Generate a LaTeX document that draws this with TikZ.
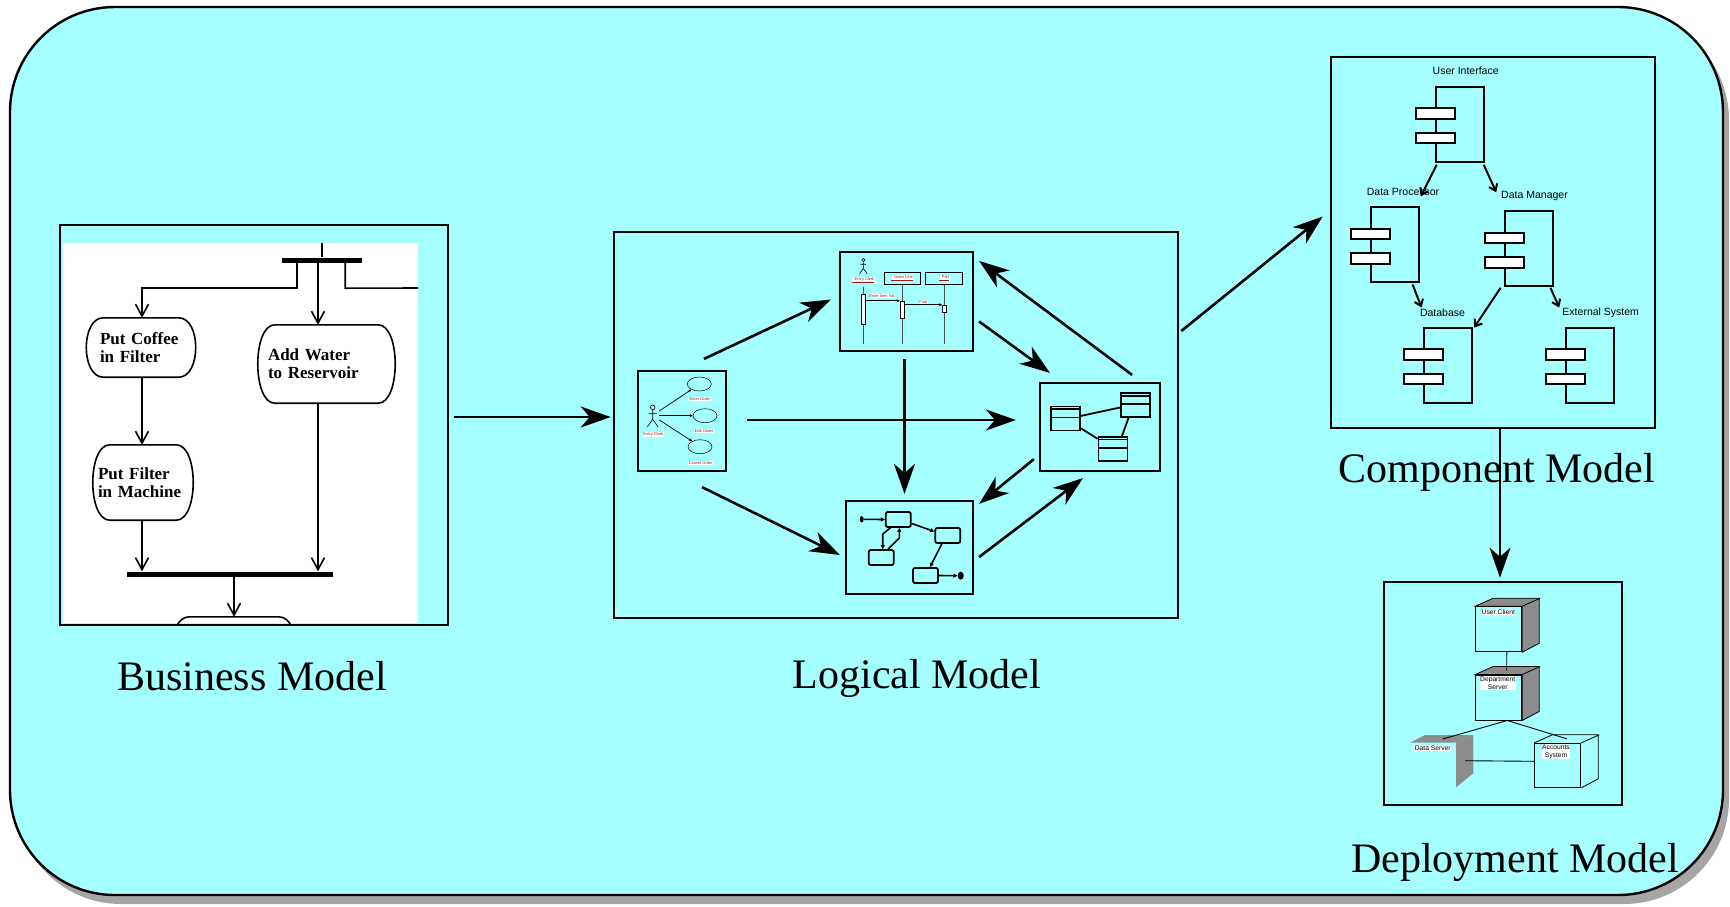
\documentclass[tikz,border=0pt]{standalone}
\usepackage{fontspec}
\setmainfont{Liberation Serif}
\setsansfont{Liberation Sans}
\usepackage{tikz}
\usetikzlibrary{calc,arrows.meta,shapes.geometric}

\definecolor{sheet}{RGB}{166,255,255}
\definecolor{shadowgray}{RGB}{165,165,165}
\definecolor{devgray}{RGB}{140,140,140}
\definecolor{minired}{RGB}{150,30,30}

\tikzset{
  modelframe/.style={draw,line width=2.6pt,inner sep=0pt},
  subframe/.style={draw,line width=2.2pt,inner sep=0pt},
  bigarrow/.style={line width=2.6pt,-{Stealth[length=30pt,width=21pt,inset=9pt]}},
  modeltitle/.style={anchor=base,inner sep=0pt,font=\fontsize{42}{50}\selectfont},
  % activity diagram
  activity/.style={inner sep=0pt,align=left,font=\bfseries\fontsize{17}{18}\selectfont},
  actline/.style={line width=1.6pt},
  actarrow/.style={line width=1.6pt,-{Straight Barb[length=12pt,width=13pt]}},
  syncbar/.style={fill,inner sep=0pt,minimum height=5pt},
  % small diagrams
  minilabel/.style={font=\sffamily\fontsize{4}{4.5}\selectfont,text=minired,fill=white,inner sep=0.4pt},
  usecase/.style={draw,ellipse,line width=0.5pt,inner sep=0pt,minimum width=24pt,minimum height=14pt},
  thinarrow/.style={line width=0.7pt,-{Stealth[length=3pt,width=3pt]}},
  seqobj/.style={draw,line width=0.8pt,inner sep=0pt,minimum height=12pt},
  lifeline/.style={line width=0.6pt,black!70},
  activation/.style={draw,fill=white,line width=0.5pt,inner sep=0pt,minimum width=4pt},
  classbox/.style={draw,line width=1.8pt,inner sep=0pt,minimum width=29pt,minimum height=24pt},
  assoc/.style={line width=1.8pt},
  stbox/.style={draw,line width=1.8pt,rounded corners=2pt,inner sep=0pt,minimum width=25pt,minimum height=15pt},
  stdot/.style={fill,ellipse,inner sep=0pt},
  starrow/.style={line width=1.6pt,-{Triangle[length=4pt,width=4pt]}},
  % component and deployment diagrams
  compbody/.style={draw,line width=2pt,inner sep=0pt,minimum width=48pt,minimum height=75pt},
  compport/.style={draw,fill=white,line width=2pt,inner sep=0pt,minimum width=39pt,minimum height=10.5pt},
  complabel/.style={font=\sffamily\fontsize{10.5}{12}\selectfont,inner sep=0pt},
  comparrow/.style={line width=2pt,-{Straight Barb[length=6pt,width=9pt]}},
  device/.style={draw,line width=1pt,inner sep=0pt,minimum width=46pt,minimum height=45pt},
  devlabel/.style={font=\sffamily\fontsize{6.7}{8}\selectfont,fill=white,inner sep=0.5pt,align=center},
  devline/.style={line width=0.9pt},
  component/.pic={
    \node[compbody] (-box) at (0,0) {};
    \foreach \dy in {-10.6,13.8}
      \node[compport] at (-24.5,\dy) {};
  },
  actor/.pic={
    \draw[line width=0.6pt] (0,0) circle[radius=2.3pt]
      (0,2.3) -- (0,12) (-4.2,6) -- (4.2,6)
      (-5.3,19.4) -- (0,12) -- (5.3,19.4);
  }
}

\begin{document}
\begin{tikzpicture}[x=1pt,y=-1pt]
  \useasboundingbox (0,0) rectangle (1730,906);

  % Sheet
  \fill[shadowgray,rounded corners=105pt] (16,15) rectangle (1729,904);
  \draw[line width=2.4pt,fill=sheet,rounded corners=105pt] (10,7) rectangle (1723,895);

  % Business model
  \node[modelframe,minimum width=388pt,minimum height=400pt] (bus) at (254,425) {};
  \fill[white] (63,243) rectangle (418,623);
  \begin{scope}
    \clip (63,243) rectangle (418,623);
    \coordinate (inflow) at (322,243);
    \coordinate (outflow) at (418,288);
    \node[syncbar,minimum width=80pt] (fork) at (322,260) {};
    \node[syncbar,minimum width=206pt] (join) at (230,574) {};
    \node[activity,minimum width=109pt,minimum height=59pt,text width=82pt] (coffee) at (141,347.5) {Put Coffee\\in Filter};
    \node[activity,minimum width=100pt,minimum height=75pt,text width=90pt] (filter) at (143,482.5) {Put Filter\\in Machine};
    \node[activity,minimum width=137pt,minimum height=78pt,text width=117pt] (water) at (326.5,364) {Add Water\\to Reservoir};
    \node[activity,minimum width=123pt,minimum height=60pt] (brew) at (234,647) {};
    \foreach \a in {coffee,filter,water,brew}
      \draw[line width=1.6pt] ($(\a.north west)+(17,0)$) -- ($(\a.north east)+(-17,0)$)
        .. controls ($(\a.north east)+(5.7,0)$) and ($(\a.south east)+(5.7,0)$) .. ($(\a.south east)+(-17,0)$)
        -- ($(\a.south west)+(17,0)$)
        .. controls ($(\a.south west)+(-5.7,0)$) and ($(\a.north west)+(-5.7,0)$) .. cycle;
    \draw[actline] (inflow) -- (fork.north);
    \draw[actarrow] ($(fork.south west)+(15,0)$) -- ++(0,25.5) -| ($(coffee.north)+(1,0)$);
    \draw[actarrow] ($(fork.south)+(-4,0)$) -- ($(water.north)+(-8.5,0)$);
    \draw[actline] ($(fork.south east)+(-17,0)$) -- ++(0,25.5) -- (outflow);
    \draw[actarrow] ($(coffee.south)+(1,0)$) -- ($(coffee.south |- filter.north)+(1,0)$);
    \draw[actarrow] ($(coffee.south |- filter.south)+(1,0)$) -- ($(coffee.south |- join.north)+(1,0)$);
    \draw[actarrow] ($(water.south)+(-8.5,0)$) -- ($(water.south |- join.north)+(-8.5,0)$);
    \draw[actarrow] (join.south -| brew.north) -- (brew.north);
  \end{scope}
  \node[modeltitle] (busname) at (252,690) {Business Model};

  % Logical model
  \node[modelframe,minimum width=564pt,minimum height=386pt] (log) at (896,425) {};
  \node[subframe,minimum width=88pt,minimum height=100pt] (uc) at (682,421) {};
  \node[subframe,minimum width=133pt,minimum height=99pt] (seq) at (906.5,301.5) {};
  \node[subframe,minimum width=120pt,minimum height=88pt] (cls) at (1100,427) {};
  \node[subframe,minimum width=127pt,minimum height=93pt] (st) at (909.5,547.5) {};
  \node[modeltitle] (logname) at (917,688) {Logical Model};

  % use case diagram
  \pic at (652.7,407.3) {actor};
  \coordinate (clerk) at (659.3,415.7);
  \node[usecase] (enter) at (699.3,384) {};
  \node[usecase] (edit) at (705,415.7) {};
  \node[usecase] (cancel) at (700,446.7) {};
  \node[minilabel] (clerkname) at (653.3,434.3) {Entry Clerk};
  \node[minilabel] (entername) at (700,399) {Enter Order};
  \node[minilabel] (editname) at (704,431) {Edit Order};
  \node[minilabel] (cancelname) at (700.7,463.3) {Cancel Order};
  \draw[thinarrow] ($(clerk)+(0,-4.7)$) -- (enter.215);
  \draw[thinarrow] (clerk) -- (edit.west);
  \draw[thinarrow] ($(clerk)+(0,4.3)$) -- (cancel.145);

  % sequence diagram
  \pic[scale=0.7] at (863.3,260) {actor};
  \node[minilabel] (seqclerk) at (863.3,280) {\underline{: Entry Clerk}};
  \node[seqobj,minimum width=36pt] (ol) at (902.2,278.3) {};
  \node[seqobj,minimum width=37pt] (part) at (944.2,278.3) {};
  \node[minilabel] (olname) at (ol) {\underline{: Order Line}};
  \node[minilabel] (partname) at (part) {\underline{: Part}};
  \draw[lifeline] ($(seqclerk.south)+(0,4)$) -- ($(seqclerk.south |- seq.south)+(0,-8)$);
  \draw[lifeline] (ol.south) -- ($(ol.south |- seq.south)+(0,-8)$);
  \draw[lifeline] (part.south) -- ($(part.south |- seq.south)+(0,-8)$);
  \node[activation,minimum height=30pt] (act1) at (863.5,309.3) {};
  \node[activation,minimum height=16.7pt] (act2) at (902,309.4) {};
  \node[activation,minimum height=6.7pt] (act3) at (944.2,308.4) {};
  \draw[thinarrow] (act1.east |- act2.north) -- (act2.north west);
  \draw[thinarrow] (act2.east |- act3.north) -- (act3.north west);
  \node[minilabel] (msgenter) at (881.7,296) {Enter Item No};
  \node[minilabel] (msgfind) at (923.3,301.7) {Find};

  % class diagram
  \node[classbox] (ca) at (1065.5,418.4) {};
  \node[classbox] (cb) at (1135.5,405) {};
  \node[classbox] (cc) at (1113,448.7) {};
  \foreach \c in {ca,cb,cc}
    \draw[line width=1.8pt] ($(\c.north west)+(0,3.6)$) -- ($(\c.north east)+(0,3.6)$)
      ($(\c.north west)+(0,12)$) -- ($(\c.north east)+(0,12)$);
  \draw[assoc] ($(ca.east)+(0,-2.5)$) -- ($(cb.west)+(0,2.5)$);
  \draw[assoc] ($(ca.south east)+(0,-3)$) -- ($(cc.north west)+(0,3)$);
  \draw[assoc] ($(cb.south)+(-7,0)$) -- ($(cc.north)+(9,0)$);

  % state diagram
  \node[stdot,minimum width=4pt,minimum height=6.5pt] (init) at (861.7,519.3) {};
  \node[stbox] (s1) at (898.3,519.5) {};
  \node[stbox] (s2) at (881.2,557.5) {};
  \node[stbox] (s3) at (947.8,535.5) {};
  \node[stbox] (s4) at (925.5,575.5) {};
  \node[stdot,minimum width=6pt,minimum height=8pt] (fin) at (960.7,575.7) {};
  \draw[starrow] (init) -- (s1.west);
  \draw[starrow] ($(s1.south)+(-8,0)$) -- ($(s2.north)+(1.5,-15)$) -- ($(s2.north)+(1.5,0)$);
  \draw[starrow] ($(s2.north)+(7,0)$) -- ($(s1.south)+(1,10)$) -- ($(s1.south)+(1,0)$);
  \draw[starrow] ($(s1.east)+(0,4)$) -- ($(s3.west)+(0,-4)$);
  \draw[starrow] ($(s3.south)+(-6,0)$) -- ($(s4.north)+(4.5,0)$);
  \draw[starrow] (s4.east) -- (fin.west);

  % Logical arrows
  \draw[bigarrow] ($(bus.east)+(5,-8)$) -- ($(log.west)+(-2,-8)$);
  \draw[bigarrow] ($(uc.north)+(22,-11)$) -- ($(seq.west)+(-8,-2)$);
  \draw[bigarrow] ($(uc.east)+(20,-1)$) -- ($(uc.east -| cls.west)+(-23,-1)$);
  \draw[bigarrow] ($(uc.south)+(20,15)$) -- ($(st.west)+(-5,7.5)$);
  \draw[bigarrow] ($(seq.south)+(-2,7)$) -- ($(seq.south |- st.north)+(-2,-6)$);
  \draw[bigarrow] ($(seq.east)+(5,20)$) -- ($(cls.north west)+(11,-9)$);
  \draw[bigarrow] ($(cls.north east)+(-29,-7)$) -- ($(seq.north east)+(5,10)$);
  \draw[bigarrow] ($(cls.south west)+(-5,-13)$) -- ($(st.north east)+(5,4)$);
  \draw[bigarrow] ($(st.east)+(5,9.5)$) -- ($(cls.south)+(-17,6)$);

  % Component model
  \node[modelframe,minimum width=324pt,minimum height=371pt] (comp) at (1493,242.5) {};
  \pic (ui) at (1459.7,124.2) {component};
  \pic (dp) at (1394.9,244.7) {component};
  \pic (dm) at (1528.9,248.7) {component};
  \pic (db) at (1448.2,365) {component};
  \pic (es) at (1589.9,365) {component};
  \node[complabel] (uiname) at (1465.7,71) {User Interface};
  \node[complabel] (dpname) at (1403,192.3) {Data Processor};
  \node[complabel] (dmname) at (1534.5,196) {Data Manager};
  \node[complabel] (dbname) at (1442.5,312.3) {Database};
  \node[complabel] (esname) at (1600.7,312.3) {External System};
  \draw[comparrow] ($(ui-box.south west)+(2,2)$) -- ($(dp-box.north east)+(1,-10)$);
  \draw[comparrow] ($(ui-box.south east)+(-1,2)$) -- ($(dm-box.north west)+(-7.7,-18)$);
  \draw[comparrow] ($(dp-box.south east)+(-7.3,1.3)$) -- ($(db-box.north west)+(-1.7,-19)$);
  \draw[comparrow] ($(dm-box.south west)+(-3.3,0.6)$) -- ($(db-box.north east)+(1,1)$);
  \draw[comparrow] ($(dm-box.south east)+(-3.4,0.6)$) -- ($(es-box.north west)+(-5.7,-19)$);
  \node[modeltitle] (compname) at (1497,482) {Component Model};
  \draw[bigarrow] ($(log.east)+(2,-94)$) -- ($(comp.west)+(-7,-26)$);

  % Deployment model
  \node[modelframe,minimum width=238pt,minimum height=223pt] (depl) at (1503,693.5) {};
  \node[device] (client) at (1498.8,629.2) {};
  \node[device] (dept) at (1498.7,697.5) {};
  \node[device,minimum height=44pt] (acct) at (1557.8,765.3) {};
  \foreach \n in {client,dept} {
    \filldraw[fill=devgray,draw=black,line width=0.8pt] (\n.north west) -- ++(18,-8) -- ++(46,0)
      -- ++(0,45) -- (\n.south east) -- (\n.north east) -- cycle;
    \draw[line width=0.8pt] (\n.north east) -- ++(18,-8);
  }
  \draw[line width=0.8pt] (acct.north west) -- ++(18,-8) -- ++(46,0) -- ++(0,44) -- (acct.south east)
    (acct.north east) -- ++(18,-8);
  \coordinate (dsrv) at (1456,742.7);
  \fill[devgray] (dsrv) -- ++(-46,0) -- ++(15,-7.7) -- ++(48.3,0) -- cycle;
  \fill[devgray] (dsrv) -- ++(17.3,-7.7) -- ++(0,38.3) -- ++(-17.3,14) -- cycle;
  \draw[devline] ($(client.south)+(8,0)$) -- ($(dept.north)+(8,-4)$);
  \draw[devline] ($(dept.south)+(8.6,0)$) -- ($(dsrv)+(-13.3,-3.7)$);
  \draw[devline] ($(dept.south)+(8.6,0)$) -- ($(acct.north)+(9,-4)$);
  \draw[devline] ($(dsrv)+(9,18)$) -- ($(acct.west)+(0,-4)$);
  \node[devlabel] (clientname) at (1498.3,611.7) {User Client};
  \node[devlabel] (deptname) at (1497.7,683.3) {Department\\Server};
  \node[devlabel] (dsrvname) at (1432.7,747.7) {Data Server};
  \node[devlabel] (acctname) at (1556,751.7) {Accounts\\System};
  \draw[bigarrow] ($(comp.south)+(7,0)$) -- ($(depl.north -| comp.south)+(7,-3)$);
  \node[modeltitle] (deplname) at (1515,872) {Deployment Model};
\end{tikzpicture}
\end{document}
